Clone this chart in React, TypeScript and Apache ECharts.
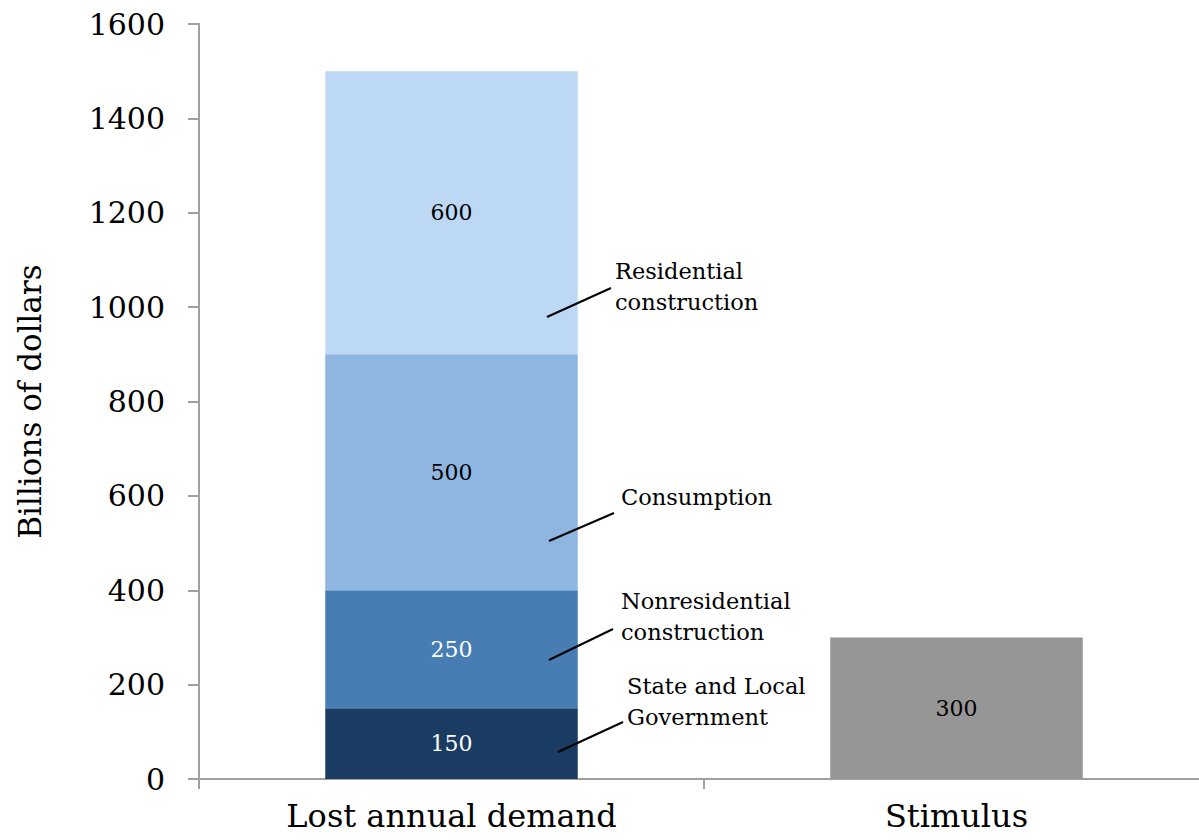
import React, { useEffect, useRef } from "react";
import * as echarts from "echarts";

const categories = ["Lost annual demand", "Stimulus"];
const stateLocal = [150, "-"];
const nonresidential = [250, "-"];
const consumption = [500, "-"];
const residential = [600, "-"];
const stimulus = ["-", 300];
const yTicks = { min: 0, max: 1600, interval: 200 };

const FONT = "'DejaVu Serif', 'Liberation Serif', serif";

export default function App() {
  const ref = useRef<HTMLDivElement>(null);
  useEffect(() => {
    const chart = echarts.init(ref.current!, null, { renderer: "svg" });
    const label = (color: string) => ({
      show: true,
      position: "inside",
      color,
      fontFamily: FONT,
      fontSize: 22,
    });
    const mk = (name: string, data: any[], color: string, lblColor: string) => ({
      name,
      type: "bar",
      stack: "total",
      data,
      barWidth: "50%",
      itemStyle: { color },
      label: label(lblColor),
    });
    const annoText = (text: string, x: number, y: number) => ({
      type: "text",
      z: 100,
      style: {
        text,
        x,
        y,
        fill: "#000",
        font: `22.5px ${FONT}`,
        lineHeight: 31,
        verticalAlign: "top",
      },
    });
    const annoLine = (x1: number, y1: number, x2: number, y2: number) => ({
      type: "line",
      z: 100,
      shape: { x1, y1, x2, y2 },
      style: { stroke: "#000", lineWidth: 2 },
    });
    chart.setOption({
      animation: false,
      backgroundColor: "#fff",
      grid: {
        left: 199,
        top: 24,
        bottom: 61,
        width: 1010,
        containLabel: false,
        outerBoundsMode: "none",
      },
      xAxis: {
        type: "category",
        data: categories,
        boundaryGap: true,
        axisLine: { lineStyle: { color: "#a0a0a0", width: 2 } },
        axisTick: { show: true, length: 10, alignWithLabel: false, lineStyle: { color: "#a0a0a0", width: 2 } },
        axisLabel: { color: "#000", fontFamily: FONT, fontSize: 32, margin: 20, lineHeight: 34 },
      },
      yAxis: {
        type: "value",
        min: yTicks.min,
        max: yTicks.max,
        interval: yTicks.interval,
        name: "Billions of dollars",
        nameLocation: "middle",
        nameGap: 154,
        nameRotate: 90,
        nameTextStyle: { color: "#000", fontFamily: FONT, fontSize: 31 },
        axisLine: { show: true, lineStyle: { color: "#a0a0a0", width: 2 } },
        axisTick: { show: true, length: 11, lineStyle: { color: "#a0a0a0", width: 2 } },
        splitLine: { show: false },
        axisLabel: {
          color: "#000",
          fontFamily: FONT,
          fontSize: 30,
          margin: 34,
          formatter: (v: number) => String(v),
        },
      },
      series: [
        mk("State and Local Government", stateLocal, "#1a3c63", "#fff"),
        mk("Nonresidential construction", nonresidential, "#477db3", "#fff"),
        mk("Consumption", consumption, "#8fb6e0", "#000"),
        mk("Residential construction", residential, "#bcd8f5", "#000"),
        mk("Stimulus", stimulus, "#969696", "#000"),
      ],
      graphic: [
        annoLine(547, 317, 611, 288),
        annoText("Residential\nconstruction", 615, 255),
        annoLine(549, 541, 614, 513),
        annoText("Consumption", 621, 481),
        annoLine(549, 660, 613, 629),
        annoText("Nonresidential\nconstruction", 621, 585),
        annoLine(558, 752, 623, 722),
        annoText("State and Local\nGovernment", 627, 670),
      ],
    });
    return () => chart.dispose();
  }, []);
  return (
    <div
      ref={ref}
      style={{ position: "absolute", left: 0, top: 0, width: 1199, height: 840 }}
    />
  );
}
